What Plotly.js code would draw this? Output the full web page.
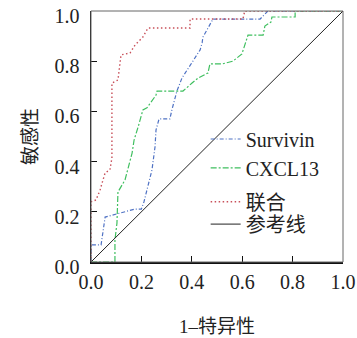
<!DOCTYPE html>
<html>
<head>
<meta charset="utf-8">
<script src="https://cdn.plot.ly/plotly-3.0.1.min.js"></script>
<style>html,body{margin:0;padding:0;background:#fff;}#chart{width:357px;height:338px;}</style>
</head>
<body>
<div id="chart"></div>
<script>
// Survivin ROC
const survivinX = [0, 0, 0.04, 0.056, 0.175, 0.2, 0.21, 0.242, 0.254, 0.258, 0.27, 0.313, 0.321, 0.341, 0.361, 0.401, 0.433, 0.441, 0.444, 0.46, 0.484, 0.671, 0.702, 1];
const survivinY = [0, 0.068, 0.068, 0.179, 0.211, 0.211, 0.239, 0.367, 0.458, 0.526, 0.57, 0.57, 0.606, 0.681, 0.733, 0.797, 0.845, 0.873, 0.896, 0.924, 0.968, 0.968, 1.0, 1];
// CXCL13 ROC
const cxclX = [0, 0.095, 0.095, 0.103, 0.107, 0.135, 0.163, 0.171, 0.187, 0.206, 0.222, 0.242, 0.258, 0.262, 0.365, 0.401, 0.425, 0.464, 0.472, 0.52, 0.563, 0.599, 0.619, 0.623, 0.683, 0.69, 0.714, 0.718, 0.81, 0.81, 1];
const cxclY = [0, 0, 0.088, 0.155, 0.279, 0.327, 0.434, 0.486, 0.538, 0.606, 0.614, 0.645, 0.665, 0.681, 0.681, 0.713, 0.733, 0.753, 0.789, 0.789, 0.8, 0.829, 0.896, 0.904, 0.904, 0.94, 0.956, 0.976, 0.976, 1.0, 1];
// 联合 ROC
const comboX = [0, 0, 0.02, 0.036, 0.056, 0.075, 0.083, 0.083, 0.107, 0.119, 0.155, 0.175, 0.206, 0.226, 0.393, 0.393, 0.603, 0.61, 1];
const comboY = [0, 0.24, 0.247, 0.287, 0.355, 0.367, 0.414, 0.713, 0.725, 0.825, 0.833, 0.865, 0.896, 0.932, 0.932, 0.968, 0.968, 1.0, 1];
// reference line
const refX = [0, 1];
const refY = [0, 1];
const seriesNames = ['Survivin', 'CXCL13', '联合', '参考线'];
const tickVals = [0, 0.2, 0.4, 0.6, 0.8, 1.0];
const tickText = ['0.0', '0.2', '0.4', '0.6', '0.8', '1.0'];

const fontFam = 'Liberation Serif, Noto Sans CJK SC, serif';

const traces = [
  {x: survivinX, y: survivinY, name: seriesNames[0], legend: 'legend', mode: 'lines', line: {color: '#4f72c4', width: 1.2, dash: '4px,2px,1px,2px'}},
  {x: cxclX, y: cxclY, name: seriesNames[1], legend: 'legend2', mode: 'lines', line: {color: '#3fbf5f', width: 1.2, dash: '6px,2px,2px,2px'}},
  {x: comboX, y: comboY, name: seriesNames[2], legend: 'legend3', mode: 'lines', line: {color: '#c8505a', width: 1.4, dash: '1.5px,2.5px'}},
  {x: refX, y: refY, name: seriesNames[3], legend: 'legend4', mode: 'lines', line: {color: '#222', width: 1}}
];

function leg(yc) {
  return {x: 0.455, y: yc, xanchor: 'left', yanchor: 'middle', bgcolor: 'rgba(0,0,0,0)', font: {size: 20}, itemwidth: 30};
}

const layout = {
  width: 357, height: 338,
  margin: {l: 91, r: 14, t: 11, b: 76},
  paper_bgcolor: '#fff', plot_bgcolor: '#fff',
  font: {family: fontFam, size: 20, color: '#222'},
  showlegend: true,
  legend: leg(0.49),
  legend2: leg(0.375),
  legend3: leg(0.24),
  legend4: leg(0.151),
  xaxis: {
    range: [0, 1], tickvals: tickVals, ticktext: tickText,
    ticks: 'inside', ticklen: 6, tickwidth: 1.2, tickcolor: '#111',
    showline: true, linecolor: '#111', linewidth: 1.5, showgrid: false, zeroline: false,
    ticklabelstandoff: 1, ticklabeloverflow: 'allow',
    title: {text: '1–特异性', font: {size: 19}, standoff: 28},
    fixedrange: true
  },
  yaxis: {
    range: [0, 1], tickvals: tickVals, ticktext: tickText,
    ticks: 'inside', ticklen: 6, tickwidth: 1.2, tickcolor: '#111',
    showline: true, linecolor: '#111', linewidth: 1.5, showgrid: false, zeroline: false,
    ticklabelstandoff: 6, ticklabelshift: 5, ticklabeloverflow: 'allow',
    title: {text: '敏感性', font: {size: 19}, standoff: 12},
    fixedrange: true
  },
  shapes: [
    {type: 'rect', xref: 'paper', yref: 'paper', x0: 0, y0: 0, x1: 1, y1: 1, line: {color: '#666', width: 1}}
  ]
};

Plotly.newPlot('chart', traces, layout, {displayModeBar: false, staticPlot: true});
</script>
</body>
</html>
